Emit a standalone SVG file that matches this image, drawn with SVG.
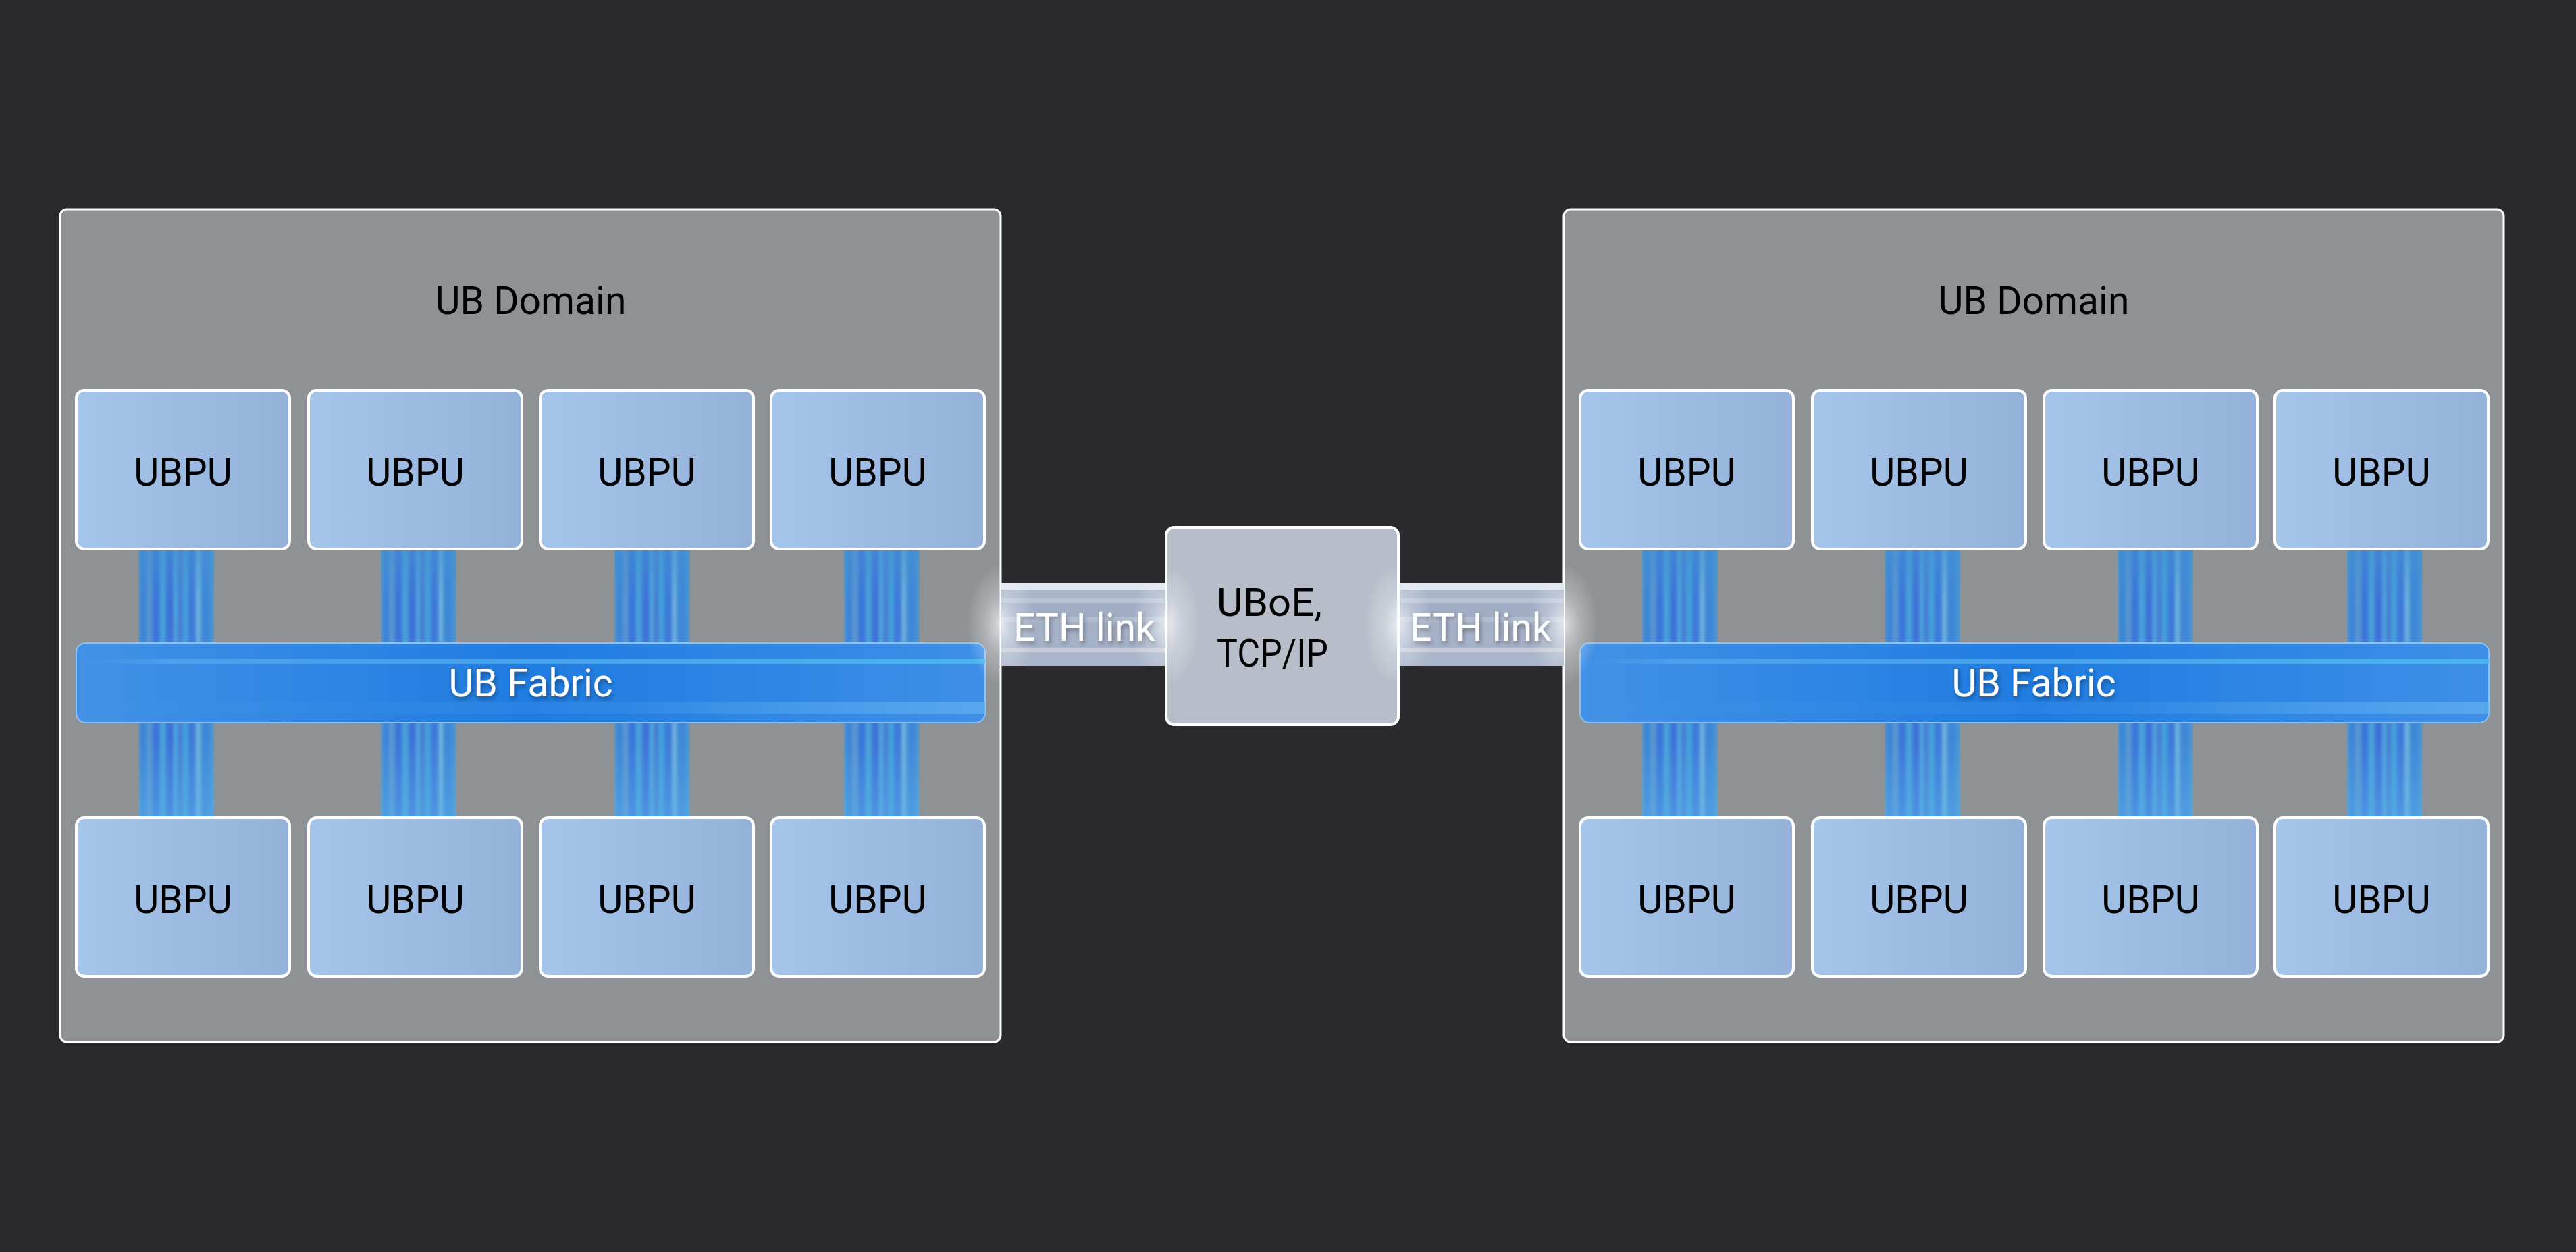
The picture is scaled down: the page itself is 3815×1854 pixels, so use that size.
<svg xmlns="http://www.w3.org/2000/svg" width="3815" height="1854" viewBox="0 0 3815 1854">
<style>
.bg{fill:#2a292e}
.domain{fill:#8f9295;stroke:#ffffff;stroke-width:3}
.ubpu{fill:url(#ubpuGrad);stroke:#ffffff;stroke-width:4}
.fabric{fill:url(#fabricGrad);stroke:#8fc2f3;stroke-width:2}
.conn{fill:url(#streak);filter:url(#soft)}
.connfade{fill:url(#connFade)}
.eth{fill:url(#ethGrad)}
.center{fill:#b8bec9;stroke:#ffffff;stroke-width:4}
.t{font-family:Roboto,"Noto Sans","Liberation Sans",sans-serif;font-size:57px}
.dark{fill:#000000}
.light{fill:#ffffff;filter:url(#shadow)}
.mid{text-anchor:middle}
</style>
<defs>
<linearGradient id="ubpuGrad" x1="0" y1="0" x2="1" y2="0">
<stop offset="0" stop-color="#a6c5ea"/>
<stop offset="1" stop-color="#94b1da"/>
</linearGradient>
<linearGradient id="fabricGrad" x1="0" y1="0" x2="1" y2="0">
<stop offset="0" stop-color="#4291e6"/>
<stop offset="0.5" stop-color="#1f7ce1"/>
<stop offset="1" stop-color="#3f8fe7"/>
</linearGradient>
<linearGradient id="bandGrad" x1="0" y1="0" x2="1" y2="0">
<stop offset="0" stop-color="#63b2f0" stop-opacity="0"/>
<stop offset="0.6" stop-color="#63b2f0" stop-opacity="0.15"/>
<stop offset="1" stop-color="#63b2f0" stop-opacity="0.7"/>
</linearGradient>
<linearGradient id="lineGrad" x1="0" y1="0" x2="1" y2="0">
<stop offset="0" stop-color="#5aaaf0" stop-opacity="0"/>
<stop offset="0.1" stop-color="#5aaaf0" stop-opacity="0.6"/>
<stop offset="1" stop-color="#4ab6ee" stop-opacity="0.9"/>
</linearGradient>
<pattern id="streak" patternContentUnits="objectBoundingBox" width="1" height="1">
<rect width="1" height="1" fill="#4395d6"/>
<rect x="0.03" width="0.07" height="1" fill="#3d82d8"/>
<rect x="0.13" width="0.03" height="1" fill="#8a8fc2" opacity="0.6"/>
<rect x="0.19" width="0.09" height="1" fill="#3b72da"/>
<rect x="0.3" width="0.04" height="1" fill="#4aa8dd"/>
<rect x="0.37" width="0.1" height="1" fill="#3c70d8"/>
<rect x="0.47" width="0.03" height="1" fill="#55b3df"/>
<rect x="0.52" width="0.06" height="1" fill="#4a7ad5"/>
<rect x="0.6" width="0.05" height="1" fill="#43a4dc"/>
<rect x="0.66" width="0.09" height="1" fill="#3e78da"/>
<rect x="0.78" width="0.025" height="1" fill="#a8d8e8" opacity="0.8"/>
<rect x="0.84" width="0.1" height="1" fill="#3f86d8"/>
</pattern>
<linearGradient id="connFade" x1="0" y1="0" x2="0" y2="1">
<stop offset="0" stop-color="#4592d2" stop-opacity="0.6"/>
<stop offset="0.2" stop-color="#4592d2" stop-opacity="0"/>
<stop offset="0.45" stop-color="#5a6fd0" stop-opacity="0.12"/>
<stop offset="0.7" stop-color="#60b4ea" stop-opacity="0"/>
<stop offset="1" stop-color="#60b4ea" stop-opacity="0.5"/>
</linearGradient>
<linearGradient id="ethGrad" x1="0" y1="0" x2="0" y2="1">
<stop offset="0" stop-color="#e0e6ef"/>
<stop offset="0.07" stop-color="#e0e6ef"/>
<stop offset="0.07" stop-color="#a9b5ca"/>
<stop offset="0.18" stop-color="#a9b5ca"/>
<stop offset="0.18" stop-color="#b9c3d4"/>
<stop offset="0.24" stop-color="#b9c3d4"/>
<stop offset="0.24" stop-color="#a1adc4"/>
<stop offset="0.4" stop-color="#a1adc4"/>
<stop offset="0.4" stop-color="#b2bdd0"/>
<stop offset="0.47" stop-color="#b2bdd0"/>
<stop offset="0.47" stop-color="#a4b0c6"/>
<stop offset="0.78" stop-color="#a7b3c8"/>
<stop offset="0.78" stop-color="#c5cbd4"/>
<stop offset="0.84" stop-color="#c5cbd4"/>
<stop offset="0.84" stop-color="#aab6cb"/>
<stop offset="1" stop-color="#aab6cb"/>
</linearGradient>
<radialGradient id="glow" cx="0.5" cy="0.5" r="0.5">
<stop offset="0" stop-color="#ffffff" stop-opacity="0.7"/>
<stop offset="0.5" stop-color="#eef2f8" stop-opacity="0.3"/>
<stop offset="1" stop-color="#ffffff" stop-opacity="0"/>
</radialGradient>
<clipPath id="glowClip">
<rect x="89" y="310" width="1393" height="1233"/>
<rect x="2316" y="310" width="1392" height="1233"/>
<rect x="1727" y="781" width="344" height="292"/>
<rect x="1482" y="864" width="245" height="122"/>
<rect x="2071" y="864" width="245" height="122"/>
</clipPath>
<filter id="soft" x="0" y="0" width="1" height="1">
<feGaussianBlur stdDeviation="2.5 0"/>
</filter>
<filter id="shadow" x="-10%" y="-30%" width="120%" height="160%">
<feDropShadow dx="2" dy="4" stdDeviation="3" flood-color="#000000" flood-opacity="0.35"/>
</filter>
</defs>

<rect class="bg" width="3815" height="1854"/>

<g id="domain-left">
<rect class="domain" x="89" y="310" width="1393" height="1233" rx="10"/>
<text class="t dark mid" x="786" y="465">UB Domain</text>
</g>
<g id="domain-right">
<rect class="domain" x="2316" y="310" width="1392" height="1233" rx="10"/>
<text class="t dark mid" x="3012" y="465">UB Domain</text>
</g>

<g id="connectors">
<g id="links-left">
<rect class="conn" x="205" y="812" width="112" height="400"/><rect class="connfade" x="205" y="812" width="112" height="400"/>
<rect class="conn" x="564" y="812" width="112" height="400"/><rect class="connfade" x="564" y="812" width="112" height="400"/>
<rect class="conn" x="910" y="812" width="112" height="400"/><rect class="connfade" x="910" y="812" width="112" height="400"/>
<rect class="conn" x="1250" y="812" width="112" height="400"/><rect class="connfade" x="1250" y="812" width="112" height="400"/>
</g>
<g id="links-right">
<rect class="conn" x="2432" y="812" width="112" height="400"/><rect class="connfade" x="2432" y="812" width="112" height="400"/>
<rect class="conn" x="2791" y="812" width="112" height="400"/><rect class="connfade" x="2791" y="812" width="112" height="400"/>
<rect class="conn" x="3136" y="812" width="112" height="400"/><rect class="connfade" x="3136" y="812" width="112" height="400"/>
<rect class="conn" x="3476" y="812" width="112" height="400"/><rect class="connfade" x="3476" y="812" width="112" height="400"/>
</g>
<g id="eth-left">
<rect class="eth" x="1482" y="864" width="245" height="122"/>
<text class="t light mid" x="1606" y="949">ETH link</text>
</g>
<g id="eth-right">
<rect class="eth" x="2071" y="864" width="245" height="122"/>
<text class="t light mid" x="2193" y="949">ETH link</text>
</g>
</g>

<g id="fabric-left">
<rect class="fabric" x="113" y="952" width="1346" height="118" rx="14"/>
<rect x="125" y="976" width="1334" height="7" fill="url(#lineGrad)"/>
<rect x="125" y="1040" width="1334" height="17" fill="url(#bandGrad)"/>
<text class="t light mid" x="786" y="1031">UB Fabric</text>
</g>
<g id="fabric-right">
<rect class="fabric" x="2340" y="952" width="1346" height="118" rx="14"/>
<rect x="2352" y="976" width="1334" height="7" fill="url(#lineGrad)"/>
<rect x="2352" y="1040" width="1334" height="17" fill="url(#bandGrad)"/>
<text class="t light mid" x="3012" y="1031">UB Fabric</text>
</g>

<g id="ubpu-l1"><rect class="ubpu" x="113" y="578" width="316" height="235" rx="12"/><text class="t dark mid" x="271" y="719">UBPU</text></g>
<g id="ubpu-l2"><rect class="ubpu" x="457" y="578" width="316" height="235" rx="12"/><text class="t dark mid" x="615" y="719">UBPU</text></g>
<g id="ubpu-l3"><rect class="ubpu" x="800" y="578" width="316" height="235" rx="12"/><text class="t dark mid" x="958" y="719">UBPU</text></g>
<g id="ubpu-l4"><rect class="ubpu" x="1142" y="578" width="316" height="235" rx="12"/><text class="t dark mid" x="1300" y="719">UBPU</text></g>
<g id="ubpu-l5"><rect class="ubpu" x="113" y="1211" width="316" height="235" rx="12"/><text class="t dark mid" x="271" y="1352">UBPU</text></g>
<g id="ubpu-l6"><rect class="ubpu" x="457" y="1211" width="316" height="235" rx="12"/><text class="t dark mid" x="615" y="1352">UBPU</text></g>
<g id="ubpu-l7"><rect class="ubpu" x="800" y="1211" width="316" height="235" rx="12"/><text class="t dark mid" x="958" y="1352">UBPU</text></g>
<g id="ubpu-l8"><rect class="ubpu" x="1142" y="1211" width="316" height="235" rx="12"/><text class="t dark mid" x="1300" y="1352">UBPU</text></g>

<g id="ubpu-r1"><rect class="ubpu" x="2340" y="578" width="316" height="235" rx="12"/><text class="t dark mid" x="2498" y="719">UBPU</text></g>
<g id="ubpu-r2"><rect class="ubpu" x="2684" y="578" width="316" height="235" rx="12"/><text class="t dark mid" x="2842" y="719">UBPU</text></g>
<g id="ubpu-r3"><rect class="ubpu" x="3027" y="578" width="316" height="235" rx="12"/><text class="t dark mid" x="3185" y="719">UBPU</text></g>
<g id="ubpu-r4"><rect class="ubpu" x="3369" y="578" width="316" height="235" rx="12"/><text class="t dark mid" x="3527" y="719">UBPU</text></g>
<g id="ubpu-r5"><rect class="ubpu" x="2340" y="1211" width="316" height="235" rx="12"/><text class="t dark mid" x="2498" y="1352">UBPU</text></g>
<g id="ubpu-r6"><rect class="ubpu" x="2684" y="1211" width="316" height="235" rx="12"/><text class="t dark mid" x="2842" y="1352">UBPU</text></g>
<g id="ubpu-r7"><rect class="ubpu" x="3027" y="1211" width="316" height="235" rx="12"/><text class="t dark mid" x="3185" y="1352">UBPU</text></g>
<g id="ubpu-r8"><rect class="ubpu" x="3369" y="1211" width="316" height="235" rx="12"/><text class="t dark mid" x="3527" y="1352">UBPU</text></g>

<g id="gateway">
<rect class="center" x="1727" y="781" width="344" height="292" rx="12"/>
<text class="t dark" x="1802" y="912" textLength="156" lengthAdjust="spacingAndGlyphs">UBoE,</text>
<text class="t dark" x="1802" y="987" textLength="165" lengthAdjust="spacingAndGlyphs">TCP/IP</text>
</g>

<g id="glows" clip-path="url(#glowClip)">
<ellipse cx="1482" cy="925" rx="50" ry="90" fill="url(#glow)"/>
<ellipse cx="1727" cy="925" rx="50" ry="90" fill="url(#glow)"/>
<ellipse cx="2071" cy="925" rx="50" ry="90" fill="url(#glow)"/>
<ellipse cx="2316" cy="925" rx="50" ry="90" fill="url(#glow)"/>
</g>
</svg>
